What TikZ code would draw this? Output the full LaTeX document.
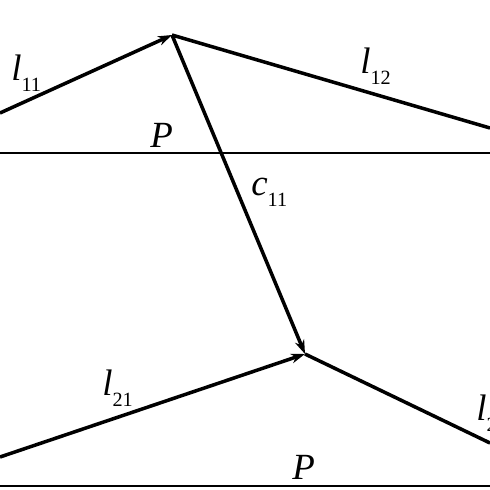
\documentclass[tikz,border=0pt]{standalone}
\usepackage{fontspec}
\setmainfont{Liberation Serif}
\usetikzlibrary{arrows.meta}

\newcommand{\vlab}[2]{{\fontsize{21}{21}\selectfont\itshape #1}{\fontsize{11.5}{11.5}\selectfont\raisebox{-6.8pt}{#2}}}

\begin{document}
\begin{tikzpicture}[x=0.02cm,y=-0.02cm,
    vec/.style={line width=2pt,-{Stealth[length=8pt,width=5.5pt]}},
    seg/.style={line width=2pt},
    plane/.style={line width=1.4pt}]
      \useasboundingbox (0,0) rectangle (490,490);

      \coordinate (A) at (172,35);
      \coordinate (B) at (305,354);
      \coordinate (l11s) at (0,113);
      \coordinate (l12e) at (490,128);
      \coordinate (l21s) at (0,457);
      \coordinate (l22e) at (490,443);
      \coordinate (P1w) at (0,153);
      \coordinate (P1e) at (490,153);
      \coordinate (P2w) at (0,486);
      \coordinate (P2e) at (490,486);

      \draw[plane] (P1w) -- (P1e);
      \draw[plane] (P2w) -- (P2e);

      \draw[vec] (l11s) -- (A);
      \draw[seg] (A) -- (l12e);
      \draw[vec] (A) -- (B);
      \draw[vec] (l21s) -- (B);
      \draw[seg] (B) -- (l22e);

      \node[anchor=base west,inner sep=0pt] (nl11) at (11,80) {\vlab{l}{11}};
      \node[anchor=base west,inner sep=0pt] (nl12) at (360,73) {\vlab{l}{12}};
      \node[anchor=base west,inner sep=0pt] (nc11) at (251,195) {\vlab{c}{11}};
      \node[anchor=base west,inner sep=0pt] (nl21) at (102,395) {\vlab{l}{21}};
      \node[anchor=base west,inner sep=0pt] (nl22) at (476,420) {\vlab{l}{22}};
      \node[anchor=base west,inner sep=0pt,font=\fontsize{21}{21}\selectfont\itshape] (nP1) at (150,147) {P};
      \node[anchor=base west,inner sep=0pt,font=\fontsize{21}{21}\selectfont\itshape] (nP2) at (292,479) {P};
    \end{tikzpicture}
\end{document}
